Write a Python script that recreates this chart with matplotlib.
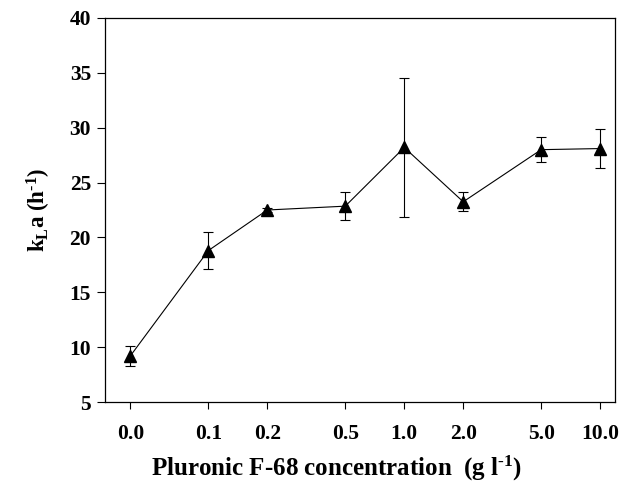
import matplotlib
matplotlib.use("Agg")
import matplotlib.pyplot as plt
from matplotlib.ticker import FixedLocator, NullLocator

# Pluronic F-68 concentration (g/l); 0.0 is drawn at 0.04 on the log axis
conc_labels = ["0.0", "0.1", "0.2", "0.5", "1.0", "2.0", "5.0", "10.0"]
conc_pos = [0.04, 0.1, 0.2, 0.5, 1.0, 2.0, 5.0, 10.0]
kla = [9.2, 18.8, 22.5, 22.85, 28.2, 23.25, 28.0, 28.1]
kla_err = [0.9, 1.65, 0.2, 1.25, 6.3, 0.85, 1.17, 1.8]

plt.rcParams["font.family"] = "Liberation Serif"
plt.rcParams["font.weight"] = "bold"
plt.rcParams["mathtext.fontset"] = "custom"
plt.rcParams["mathtext.rm"] = "Liberation Serif:bold"
plt.rcParams["mathtext.bf"] = "Liberation Serif:bold"
plt.rcParams["mathtext.it"] = "Liberation Serif:bold"

fig = plt.figure(figsize=(6.3, 4.92), dpi=100)
ax = fig.add_axes([105 / 630, 1 - 402 / 492, 510 / 630, 384 / 492])

ax.errorbar(conc_pos, kla, yerr=kla_err, color="black", marker="^",
            markersize=8, linewidth=0.8, elinewidth=0.8, capsize=3.5,
            capthick=0.8)

ax.set_xscale("log")
ax.set_xlim(0.0297, 11.9)
ax.set_ylim(5, 40)
ax.xaxis.set_major_locator(FixedLocator(conc_pos))
ax.xaxis.set_minor_locator(NullLocator())
ax.set_xticklabels(conc_labels)
ax.set_yticks(range(5, 41, 5))

ax.tick_params(axis="both", direction="out", labelsize=15.5, width=0.8)
ax.tick_params(axis="x", length=5, pad=11)
ax.tick_params(axis="y", length=6, pad=4)
for lab in ax.get_xticklabels() + ax.get_yticklabels():
    lab.set_fontweight("bold")
for s in ax.spines.values():
    s.set_linewidth(0.9)

sup = "$^{\\mathregular{\u2010}\\mathregular{1}}$"
ax.set_xlabel("Pluronic F-68 concentration  (g l" + sup + ")",
              fontsize=18, fontweight="bold")
ax.xaxis.set_label_coords(0.455, -0.135)
ax.set_ylabel(r"k$_{\mathregular{L}}$a (h" + sup + ")",
              fontsize=16.5, fontweight="bold", labelpad=12)

fig.savefig("out.png", dpi=100)
